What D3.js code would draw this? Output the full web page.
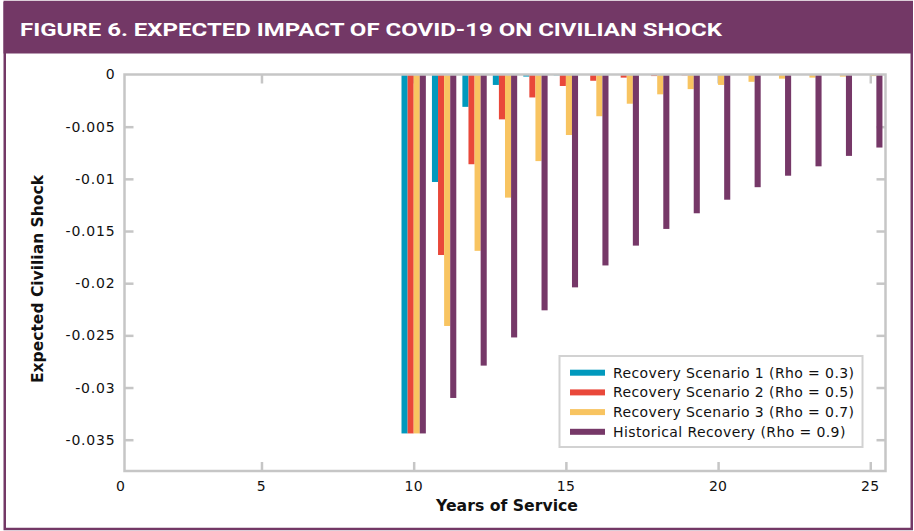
<!DOCTYPE html>
<html>
<head>
<meta charset="utf-8">
<script src="https://cdn.jsdelivr.net/npm/d3@7"></script>
<style>
  html, body { margin: 0; padding: 0; background: #fff; }
  svg { display: block; }
</style>
</head>
<body>
<svg id="chart" width="914" height="531"></svg>
<script>
// Years of service with a non-zero expected shock
const years = [10, 11, 12, 13, 14, 15, 16, 17, 18, 19, 20, 21, 22, 23, 24, 25];

// Expected civilian shock by recovery scenario
const scenario1 = [-0.0344, -0.0103, -0.0031, -0.0010, -0.0002, -0.00008, -0.00002, 0, 0, 0, 0, 0, 0, 0, 0, 0];
const scenario2 = [-0.0344, -0.0173, -0.0086, -0.0043, -0.0022, -0.0011, -0.0006, -0.0003, -0.00015, -0.00008, -0.00004, -0.00002, -0.00001, 0, 0, 0];
const scenario3 = [-0.0344, -0.0241, -0.0169, -0.0118, -0.0083, -0.0058, -0.0040, -0.0028, -0.0019, -0.0014, -0.0010, -0.0007, -0.0004, -0.0003, -0.0002, -0.00015];
const historical = [-0.0344, -0.0310, -0.0279, -0.0252, -0.0226, -0.0204, -0.0183, -0.0164, -0.0148, -0.0133, -0.0120, -0.0108, -0.0097, -0.0088, -0.0078, -0.0070];

const seriesLabels = [
  "Recovery Scenario 1 (Rho = 0.3)",
  "Recovery Scenario 2 (Rho = 0.5)",
  "Recovery Scenario 3 (Rho = 0.7)",
  "Historical Recovery (Rho = 0.9)"
];
const seriesColors = ["#0199bd", "#e9483a", "#f8c461", "#763868"];

const xTickValues = [0, 5, 10, 15, 20, 25];
const yTickValues = [0, -0.005, -0.01, -0.015, -0.02, -0.025, -0.03, -0.035];

const titleText = "FIGURE 6. EXPECTED IMPACT OF COVID-19 ON CIVILIAN SHOCK";
const xTitle = "Years of Service";
const yTitle = "Expected Civilian Shock";

const series = [scenario1, scenario2, scenario3, historical];

const purple = "#733866";
const gridGray = "#c6c6c6";
const labelFont = "'DejaVu Sans', sans-serif";

const svg = d3.select("#chart");

// Outer panel and title band
svg.append("rect")
  .attr("x", 4.75).attr("y", 2).attr("width", 907).attr("height", 527)
  .attr("fill", "#fff").attr("stroke", purple).attr("stroke-width", 2.5);
svg.append("rect")
  .attr("x", 3.5).attr("y", 2).attr("width", 909.5).attr("height", 51.5)
  .attr("fill", purple);
svg.append("text")
  .attr("x", 20).attr("y", 36)
  .attr("fill", "#fff")
  .attr("font-family", "Roboto, sans-serif")
  .attr("font-weight", 700)
  .attr("font-size", 18.5)
  .attr("textLength", 702)
  .attr("lengthAdjust", "spacingAndGlyphs")
  .text(titleText);

// Plot area
const plot = { left: 124.5, right: 885.5, top: 74.5, bottom: 471 };

const x = d3.scaleLinear().domain([0.5, 25.5]).range([plot.left, plot.right]);
const y = d3.scaleLinear().domain([-0.038, 0]).range([plot.bottom, plot.top]);

const barW = x(0.7) - x(0.5);

// Inward tick marks on all four sides (drawn beneath the bars)
function styleTicks(g) {
  g.select(".domain").remove();
  g.selectAll(".tick line").attr("stroke", gridGray).attr("stroke-width", 2.5);
  g.selectAll(".tick text").remove();
}
const innerX = xTickValues.filter(v => v >= 1);
const innerY = yTickValues.filter(v => v < 0);

svg.append("g").attr("transform", `translate(0,${plot.bottom})`)
  .call(d3.axisTop(x).tickValues(innerX).tickSize(9)).call(styleTicks);
svg.append("g").attr("transform", `translate(0,${plot.top})`)
  .call(d3.axisBottom(x).tickValues(innerX).tickSize(9)).call(styleTicks);
svg.append("g").attr("transform", `translate(${plot.left},0)`)
  .call(d3.axisRight(y).tickValues(innerY).tickSize(9)).call(styleTicks);
svg.append("g").attr("transform", `translate(${plot.right},0)`)
  .call(d3.axisLeft(y).tickValues(innerY).tickSize(9)).call(styleTicks);

// Bars: four per year, clustered around the year position
const barLayer = svg.append("g");
series.forEach((vals, i) => {
  barLayer.append("g")
    .attr("fill", seriesColors[i])
    .selectAll("rect")
    .data(years.map((yr, j) => ({ yr, v: vals[j] })))
    .join("rect")
    .attr("x", d => x(d.yr) + (i - 2) * barW)
    .attr("y", y(0))
    .attr("width", barW)
    .attr("height", d => Math.max(0, y(d.v) - y(0)));
});

// Frame
svg.append("rect")
  .attr("x", plot.left).attr("y", plot.top)
  .attr("width", plot.right - plot.left).attr("height", plot.bottom - plot.top)
  .attr("fill", "none").attr("stroke", gridGray).attr("stroke-width", 2.5);

// Tick labels
const xAxis = svg.append("g").attr("transform", `translate(0,${plot.bottom})`)
  .call(d3.axisBottom(x).tickValues(xTickValues).tickSize(0).tickPadding(10).tickFormat(d => String(d)));
xAxis.select(".domain").remove();
xAxis.selectAll(".tick")
  .attr("transform", d => `translate(${Math.max(x(d), plot.left - 4)},0)`);
xAxis.selectAll(".tick text")
  .attr("font-family", labelFont).attr("font-size", 14).attr("fill", "#111")
  .attr("letter-spacing", 0.3);

const yAxis = svg.append("g").attr("transform", `translate(${plot.left},0)`)
  .call(d3.axisLeft(y).tickValues(yTickValues).tickSize(0).tickPadding(9).tickFormat(d => String(d)));
yAxis.select(".domain").remove();
yAxis.selectAll(".tick text")
  .attr("font-family", labelFont).attr("font-size", 14).attr("fill", "#111")
  .attr("letter-spacing", 0.8);

// Axis titles
svg.append("text")
  .attr("x", (x(0.5) + x(25.5)) / 2 + 2).attr("y", 511)
  .attr("text-anchor", "middle")
  .attr("font-family", labelFont).attr("font-weight", 700).attr("font-size", 15.5)
  .attr("fill", "#111")
  .attr("textLength", 142).attr("lengthAdjust", "spacingAndGlyphs")
  .text(xTitle);

svg.append("text")
  .attr("transform", "translate(43,279) rotate(-90)")
  .attr("text-anchor", "middle")
  .attr("font-family", labelFont).attr("font-weight", 700).attr("font-size", 15.5)
  .attr("fill", "#111")
  .attr("textLength", 208).attr("lengthAdjust", "spacingAndGlyphs")
  .text(yTitle);

// Legend
const legend = svg.append("g");
legend.append("rect")
  .attr("x", 559.5).attr("y", 356).attr("width", 303).attr("height", 91)
  .attr("fill", "#fff").attr("stroke", "#d2d2d2").attr("stroke-width", 2);
seriesLabels.forEach((label, i) => {
  const cy = 372.7 + i * 19.7;
  legend.append("rect")
    .attr("x", 570).attr("y", cy - 3).attr("width", 35).attr("height", 6)
    .attr("fill", seriesColors[i]);
  legend.append("text")
    .attr("x", 613).attr("y", cy + 5)
    .attr("font-family", labelFont).attr("font-size", 14).attr("fill", "#111")
    .attr("letter-spacing", 0.4)
    .text(label);
});
</script>
</body>
</html>
